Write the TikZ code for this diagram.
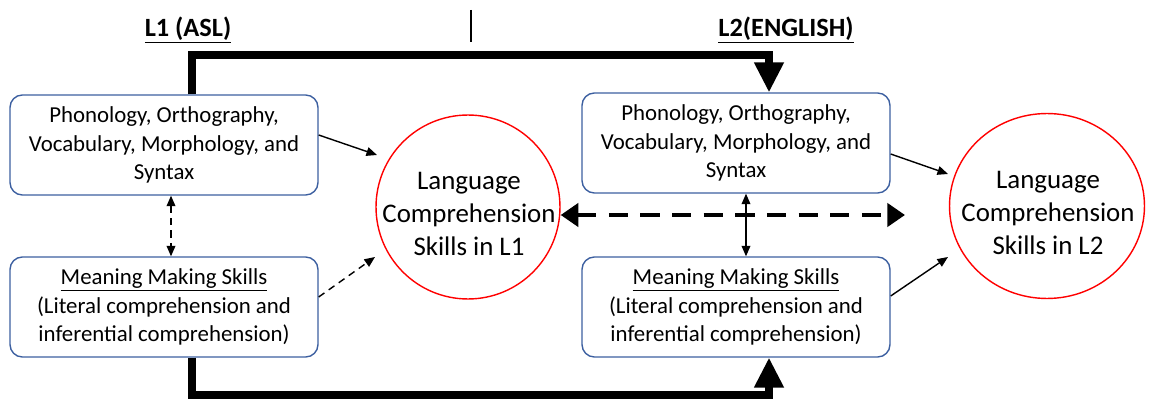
\documentclass[tikz,border=0pt]{standalone}
\usepackage{fontspec}
\setmainfont{Carlito}
\usetikzlibrary{arrows.meta,shapes.geometric,calc}
\definecolor{boxblue}{RGB}{60,95,160}
\begin{document}
\begin{tikzpicture}[x=0.02cm,y=-0.02cm,
  skillbox/.style={draw=boxblue,line width=0.8pt,rounded corners=7pt,minimum width=6.16cm,minimum height=2cm,align=center,font=\fontsize{13}{16.4}\selectfont,inner sep=0pt},
  compcircle/.style={draw=red,line width=0.8pt,ellipse,inner sep=0pt},
  circletext/.style={align=center,font=\fontsize{15.3}{19}\selectfont,inner sep=0pt},
  title/.style={font=\fontsize{15}{18}\selectfont\bfseries},
  thickflow/.style={line width=4pt,line join=miter,-{Triangle[width=16pt,length=17pt]}},
  bigdash/.style={line width=2.8pt,dash pattern=on 11pt off 7pt,{Triangle[width=13pt,length=10pt]}-{Triangle[width=13pt,length=10pt]}},
  thinarrow/.style={line width=0.8pt,-{Triangle[width=5pt,length=6pt]}},
  thinboth/.style={line width=0.8pt,{Triangle[width=5pt,length=6pt]}-{Triangle[width=5pt,length=6pt]}},
  thindash/.style={dash pattern=on 4pt off 3pt}]
\useasboundingbox (0,0) rectangle (1157,402);

\node[title] (t1) at (188,30) {\underline{L1 (ASL)}};
\node[title] (t2) at (786,30) {\underline{L2(ENGLISH)}};
\coordinate (tickA) at (471,10);
\coordinate (tickB) at (471,42);
\draw[line width=0.8pt] (tickA) -- (tickB);

\node[skillbox] (b1) at (164,145) {Phonology, Orthography,\\Vocabulary, Morphology, and\\Syntax};
\node[skillbox] (b2) at (164,307) {\underline{Meaning Making Skills}\\(Literal comprehension and\\inferential comprehension)};
\node[skillbox] (b3) at (736,143) {Phonology, Orthography,\\Vocabulary, Morphology, and\\Syntax};
\node[skillbox] (b4) at (736,307) {\underline{Meaning Making Skills}\\(Literal comprehension and\\inferential comprehension)};

\node[compcircle,minimum width=3.68cm,minimum height=3.68cm] (c1) at (468,207) {};
\node[compcircle,minimum width=3.9cm,minimum height=3.7cm] (c2) at (1047,206) {};
\node[circletext] (c1t) at (469,214) {Language\\Comprehension\\Skills in L1};
\node[circletext] (c2t) at (1048,213) {Language\\Comprehension\\Skills in L2};

% thick flows
\coordinate (topL) at (192,55);
\coordinate (topR) at (769,55);
\coordinate (botL) at (192,395);
\coordinate (botR) at (769,395);
\draw[thickflow] (b1.north -| topL) -- (topL) -- (topR) -- (b3.north -| topR);
\draw[thickflow] (b2.south -| botL) -- (botL) -- (botR) -- (b4.south -| botR);

% big dashed
\coordinate (dashR) at (905,215);
\draw[bigdash] (c1.east |- dashR) -- (dashR);

% vertical links
\coordinate (vL) at (171,0);
\coordinate (vR) at (746,0);
\draw[thinboth,thindash] (b1.south -| vL) -- (b2.north -| vL);
\draw[thinboth] (b3.south -| vR) -- (b4.north -| vR);

% to circles
\coordinate (a1s) at (318,135); \coordinate (a1e) at (377,155);
\coordinate (a2s) at (318,297); \coordinate (a2e) at (375,257);
\coordinate (a3s) at (890,154); \coordinate (a3e) at (948,174);
\coordinate (a4s) at (890,296); \coordinate (a4e) at (948,257);
\draw[thinarrow] (b1.east |- a1s) -- (a1e);
\draw[thinarrow,thindash] (b2.east |- a2s) -- (a2e);
\draw[thinarrow] (b3.east |- a3s) -- (a3e);
\draw[thinarrow] (b4.east |- a4s) -- (a4e);
\end{tikzpicture}
\end{document}
